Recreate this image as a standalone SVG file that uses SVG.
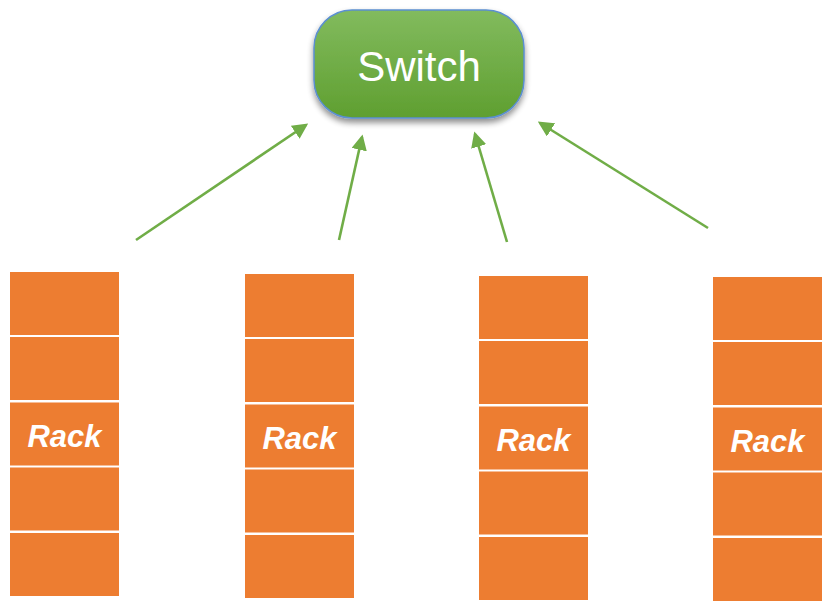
<svg xmlns="http://www.w3.org/2000/svg" width="827" height="605" viewBox="0 0 827 605">
<defs>
<linearGradient id="sw" x1="0" y1="0" x2="0" y2="1">
<stop offset="0" stop-color="#82bb5e"/>
<stop offset="1" stop-color="#5f9f30"/>
</linearGradient>
<filter id="sh" x="-10%" y="-10%" width="120%" height="130%">
<feGaussianBlur in="SourceAlpha" stdDeviation="3"/>
<feOffset dx="0" dy="4"/>
<feComponentTransfer><feFuncA type="linear" slope="0.45"/></feComponentTransfer>
<feMerge><feMergeNode/><feMergeNode in="SourceGraphic"/></feMerge>
</filter>
<marker id="ah" markerWidth="6" markerHeight="6" refX="5" refY="3" orient="auto" markerUnits="strokeWidth">
<path d="M0,0 L6,3 L0,6 Z" fill="#70ad47"/>
</marker>
<g id="rackShape" fill="#ed7d31">
<rect x="0" y="0" width="109" height="63"/>
<rect x="0" y="65" width="109" height="63"/>
<rect x="0" y="130.5" width="109" height="63"/>
<rect x="0" y="195.5" width="109" height="63"/>
<rect x="0" y="261" width="109" height="63"/>
</g>
</defs>
<style>
.rt { font-family: "Liberation Sans", Arial, sans-serif; font-weight: bold; font-style: italic; font-size: 31px; fill: #ffffff; text-anchor: middle; }
.conn line { stroke: #70ad47; stroke-width: 2.6; marker-end: url(#ah); }
</style>
<g id="switch">
<rect x="314" y="10" width="210" height="108" rx="38" ry="38" fill="url(#sw)" stroke="#5b8fd0" stroke-width="1.5" filter="url(#sh)"/>
<text x="419" y="81" font-family="Liberation Sans, Arial, sans-serif" font-size="42" fill="#ffffff" text-anchor="middle">Switch</text>
</g>
<g id="connectors" class="conn">
<line x1="136" y1="240" x2="306" y2="125"/>
<line x1="339" y1="240" x2="362" y2="137"/>
<line x1="507" y1="242" x2="475" y2="134"/>
<line x1="708" y1="228" x2="540" y2="123"/>
</g>
<g id="rack1" transform="translate(10,272)">
<use href="#rackShape"/>
<text class="rt" x="54.5" y="175">Rack</text>
</g>
<g id="rack2" transform="translate(245,274)">
<use href="#rackShape"/>
<text class="rt" x="54.5" y="175">Rack</text>
</g>
<g id="rack3" transform="translate(479,276)">
<use href="#rackShape"/>
<text class="rt" x="54.5" y="175">Rack</text>
</g>
<g id="rack4" transform="translate(713,277)">
<use href="#rackShape"/>
<text class="rt" x="54.5" y="175">Rack</text>
</g>
</svg>
